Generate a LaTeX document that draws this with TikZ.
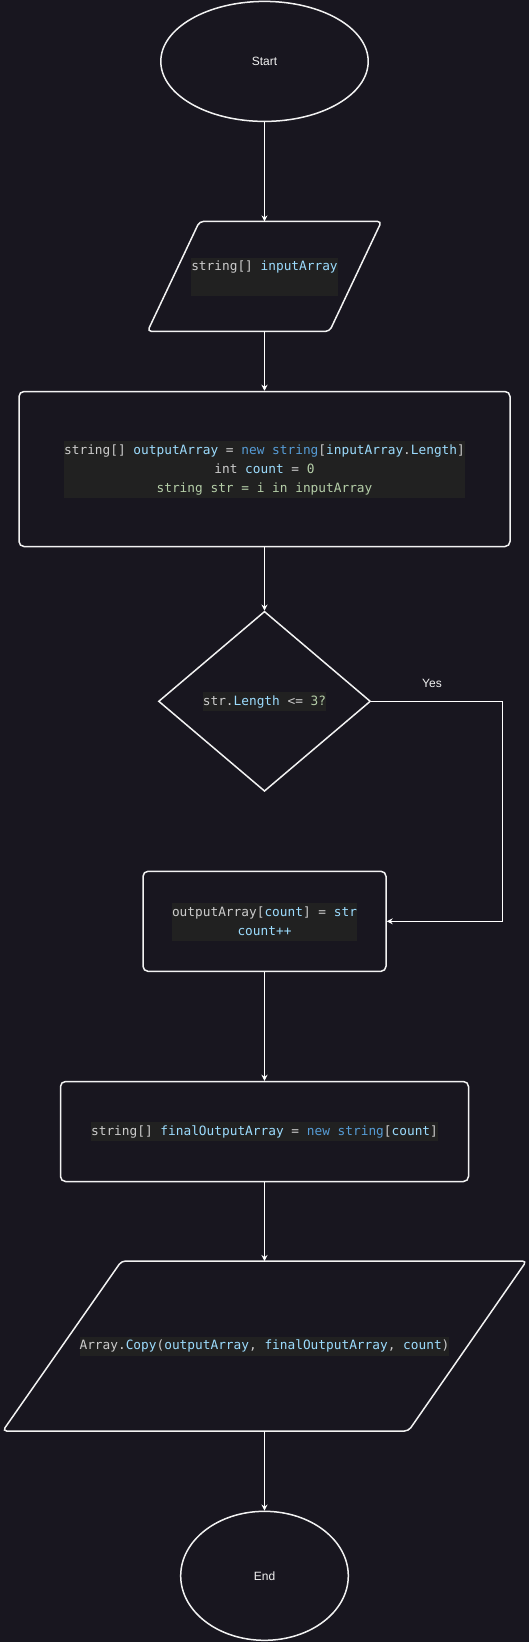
\documentclass[tikz,border=0pt]{standalone}
\usepackage{fontspec}
\setmainfont{Liberation Sans}
\newfontfamily\codefont{DejaVu Sans Mono}
\usetikzlibrary{arrows.meta,shapes.geometric}

\definecolor{bgdark}{HTML}{18161F}
\definecolor{codebg}{HTML}{212121}
\definecolor{codefg}{HTML}{CCCCCC}
\definecolor{codeid}{HTML}{9CDCFE}
\definecolor{codekw}{HTML}{569CD6}
\definecolor{codenum}{HTML}{B5CEA8}
\newcommand{\cid}[1]{\textcolor{codeid}{#1}}
\newcommand{\ckw}[1]{\textcolor{codekw}{#1}}
\newcommand{\cnum}[1]{\textcolor{codenum}{#1}}

\tikzset{
  shapeline/.style={draw=white!90!gray, line width=1.5pt},
  flowbox/.style={shapeline, rounded corners=5pt, inner sep=0pt},
  code/.style={fill=codebg, text=codefg, inner sep=0pt, align=center,
    font=\codefont\fontsize{12.8}{19}\selectfont},
  termtext/.style={text=white!90!gray, font=\fontsize{12}{14}\selectfont},
  flow/.style={draw=white, line width=1pt, -{Stealth[length=6pt,width=6pt,inset=2pt]}},
}

\begin{document}
\begin{tikzpicture}[x=1pt, y=-1pt]
    \fill[bgdark] (0,0) rectangle (529,1642);
    \useasboundingbox (0,0) rectangle (529,1642);

    \node[shapeline, ellipse, minimum width=207.4pt, minimum height=120pt, termtext] (start) at (264.5,61.4) {Start};

    % input: parallelogram drawn by hand, with named top and bottom points
    \draw[shapeline, rounded corners=4pt] (199.5,221.4) -- (381.5,221.4) -- (329.5,331.4) -- (147.5,331.4) -- cycle;
    \coordinate (input-n) at (264.5,221.4);
    \coordinate (input-s) at (264.5,331.4);
    \node[code] (inputtext) at (264.5,276.6) {string[] \cid{inputArray}\strut\\\strut};

    \node[flowbox, minimum width=491pt, minimum height=155pt] (init) at (264.5,469) {};
    \node[code] (inittext) at (264.5,469.5) {string[] \cid{outputArray} = \ckw{new string}[\cid{inputArray}.\cid{Length}]\strut\\
        int \cid{count} = \cnum{0}\strut\\
        \cnum{string str = i in inputArray}\strut};

    \node[shapeline, diamond, minimum width=212pt, minimum height=180pt, inner sep=0pt] (cond) at (264.5,701.3) {};
    \node[code] (condtext) at (264.5,701.3) {str.\cid{Length} <= \cnum{3?}\strut};
    \node[termtext] (yes) at (432,683) {Yes};

    \node[flowbox, minimum width=243pt, minimum height=100pt] (upd) at (264.5,921.3) {};
    \node[code] (updtext) at (264.5,922) {outputArray[\cid{count}] = \cid{str}\strut\\\cid{count++}\strut};

    \node[flowbox, minimum width=408pt, minimum height=100pt] (fin) at (264.5,1131.5) {};
    \node[code] (fintext) at (264.5,1131.5) {string[] \cid{finalOutputArray} = \ckw{new string}[\cid{count}]\strut};

    % output: second parallelogram
    \draw[shapeline, rounded corners=4pt] (121.5,1261) -- (526.5,1261) -- (408.5,1431) -- (2.7,1431) -- cycle;
    \coordinate (copy-n) at (264.5,1261);
    \coordinate (copy-s) at (264.5,1431);
    \node[code] (copytext) at (264.5,1346) {Array.\cid{Copy}(\cid{outputArray}, \cid{finalOutputArray}, \cid{count})\strut};

    \node[shapeline, ellipse, minimum width=167.6pt, minimum height=129pt, termtext] (end) at (264.5,1575.8) {End};

    \draw[flow] (start.south) -- (input-n);
    \draw[flow] (input-s) -- (init.north);
    \draw[flow] (init.south) -- (cond.north);
    \draw[flow] (cond.east) -- ++(131,0) |- (upd.east);
    \draw[flow] (upd.south) -- (fin.north);
    \draw[flow] (fin.south) -- (copy-n);
    \draw[flow] (copy-s) -- (end.north);
\end{tikzpicture}
\end{document}
